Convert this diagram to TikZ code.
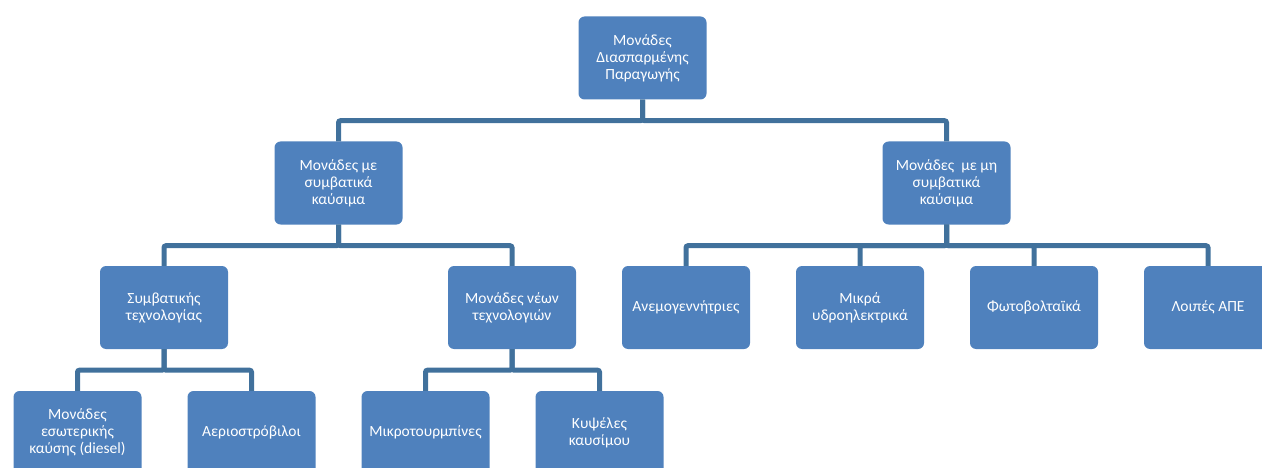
\documentclass[tikz,border=0pt]{standalone}
\usepackage{fontspec}
\setmainfont{Carlito}
\usepackage{tikz}
\usetikzlibrary{positioning}

\definecolor{boxblue}{HTML}{4F81BD}
\definecolor{linkblue}{HTML}{41719C}

\tikzset{
  unit/.style={fill=boxblue, draw=none, rounded corners=6pt, text=white,
    minimum width=128pt, minimum height=83pt, align=center, inner sep=2pt,
    font=\fontsize{15.5}{16.8}\selectfont},
  link/.style={draw=linkblue, line width=5pt, rounded corners=2pt}
}

\begin{document}
\begin{tikzpicture}[x=1pt, y=-1pt]
\useasboundingbox (0,0) rectangle (1262,468);
% level 0
\node[unit] (dg) at (642.5,58) {Μονάδες\\Διασπαρμένης\\Παραγωγής};
% level 1
\node[unit] (conv) at (338.5,183) {Μονάδες με\\συμβατικά\\καύσιμα};
\node[unit] (nconv) at (946.5,183) {Μονάδες\ \ με μη\\συμβατικά\\καύσιμα};
% level 2
\node[unit] (old) at (164,307.5) {Συμβατικής\\τεχνολογίας};
\node[unit] (new) at (512,307.5) {Μονάδες νέων\\τεχνολογιών};
\node[unit] (wind) at (686,307.5) {Ανεμογεννήτριες};
\node[unit] (hydro) at (860,307.5) {Μικρά\\υδροηλεκτρικά};
\node[unit] (pv) at (1034,307.5) {Φωτοβολταϊκά};
\node[unit] (res) at (1208,307.5) {Λοιπές ΑΠΕ};
% level 3
\node[unit] (diesel) at (77.5,432.5) {Μονάδες\\εσωτερικής\\καύσης (diesel)};
\node[unit] (gt) at (251.5,432.5) {Αεριοστρόβιλοι};
\node[unit] (mt) at (425.5,432.5) {Μικροτουρμπίνες};
\node[unit] (fc) at (599.5,432.5) {Κυψέλες\\καυσίμου};

\foreach \p/\c in {dg/conv, dg/nconv, conv/old, conv/new,
    nconv/wind, nconv/hydro, nconv/pv, nconv/res,
    old/diesel, old/gt, new/mt, new/fc}
  \draw[link] (\p.south) -- ++(0,21) -| (\c.north);
\end{tikzpicture}
\end{document}
